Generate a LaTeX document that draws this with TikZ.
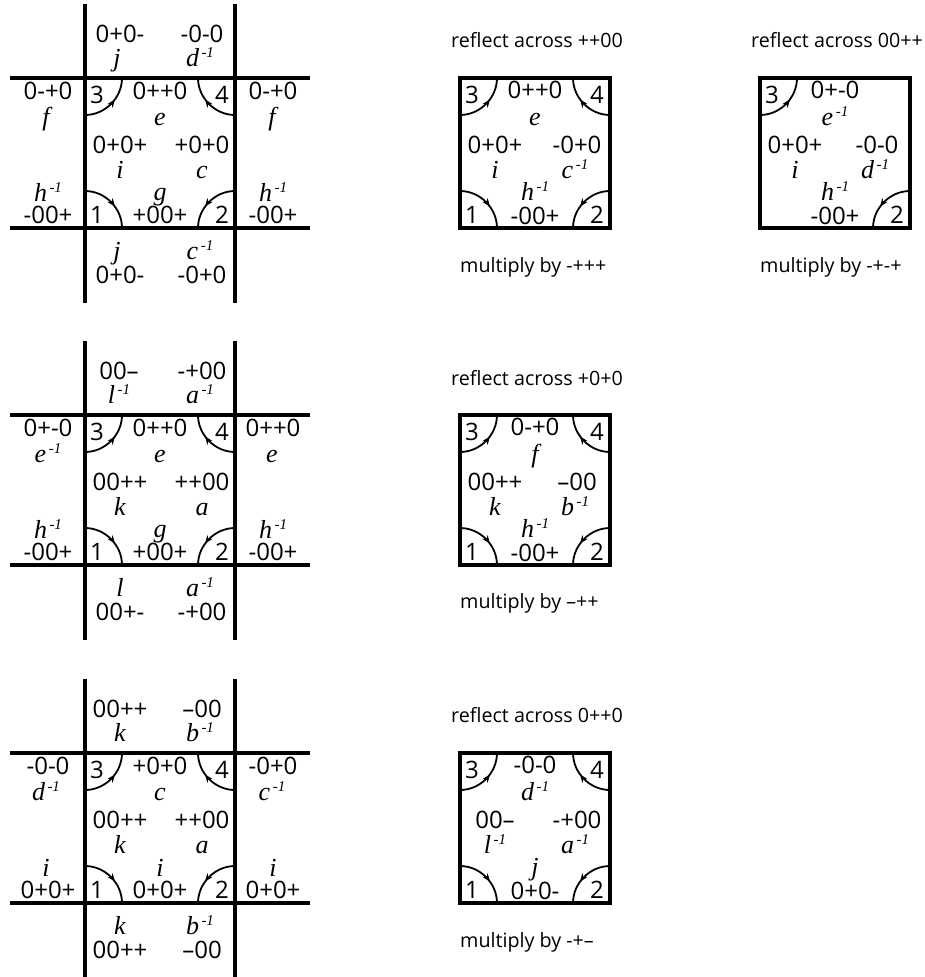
\documentclass[tikz,border=0pt]{standalone}
\usepackage{fontspec}
\usetikzlibrary{arrows.meta,decorations.markings}
\setmainfont{Open Sans}
\newfontfamily\itf{Liberation Serif Italic}
\newcounter{lbl}
\newcommand\tn[4]{\stepcounter{lbl}\node[#1] (n\arabic{lbl}) at (#2,#3) {#4};}
\newcommand\inv[1]{#1\raisebox{9pt}{\fontsize{15}{15}\selectfont\,-1}}
\newcommand\carc[4]{\draw[cornerarc] (#1,{#2+#4*37}) .. controls ({#1+#3*20},{#2+#4*37}) and ({#1+#3*37},{#2+#4*20}) .. ({#1+#3*37},#2);}
% corner arcs + digits, square with left #1 and top 0
\newcommand\cA[1]{\carc{#1}{150}{1}{-1}\tn{num}{#1+12}{145}{1}}
\newcommand\cB[1]{\carc{#1+150}{150}{-1}{-1}\tn{num}{#1+137}{145}{2}}
\newcommand\cC[1]{\carc{#1}{0}{1}{1}\tn{num}{#1+12}{25}{3}}
\newcommand\cD[1]{\carc{#1+150}{0}{-1}{1}\tn{num}{#1+137}{25}{4}}
\newcommand\grid{%
  \draw[heavy] (85,-74) -- (85,225);
  \draw[heavy] (235,-74) -- (235,225);
  \draw[heavy] (10,0) -- (310,0);
  \draw[heavy] (10,150) -- (310,150);
  \cA{85}\cB{85}\cC{85}\cD{85}}
\tikzset{
  x=1pt,y=-1pt,
  heavy/.style={line width=4.2pt,black},
  frame/.style={line width=4.2pt,black},
  cornerarc/.style={line width=1.8pt,black,postaction={decorate},
    decoration={markings,mark=at position .6 with {\arrow[line width=.6pt]{Stealth[length=8pt,width=6.5pt]}}}},
  num/.style={anchor=base,inner sep=0pt,font=\fontsize{24}{24}\selectfont},
  ital/.style={anchor=base,inner sep=0pt,font=\fontsize{26}{26}\itf},
  captxt/.style={anchor=base west,inner sep=0pt,font=\fontsize{19.7}{20}\selectfont},
}
\begin{document}
\begin{tikzpicture}
\useasboundingbox (0,0) rectangle (924,977);
% ---------- panel 1
\begin{scope}[shift={(0,78)}]
\grid
\tn{num}{120}{-36}{0+0-}\tn{num}{202}{-36}{-0-0}
\tn{ital}{117}{-12}{j}\tn{ital}{200}{-12}{\inv{d}}
\tn{num}{48}{21}{0-+0}\tn{num}{160}{21}{0++0}\tn{num}{273}{21}{0-+0}
\tn{ital}{46}{47}{f}\tn{ital}{160}{47}{e}\tn{ital}{272}{47}{f}
\tn{num}{120}{75}{0+0+}\tn{num}{202}{75}{+0+0}
\tn{ital}{120}{100}{i}\tn{ital}{202}{100}{c}
\tn{ital}{48}{123}{\inv{h}}\tn{ital}{160}{122}{g}\tn{ital}{273}{123}{\inv{h}}
\tn{num}{48}{145}{-00+}\tn{num}{160}{145}{+00+}\tn{num}{273}{145}{-00+}
\tn{ital}{117}{181}{j}\tn{ital}{200}{181}{\inv{c}}
\tn{num}{120}{205}{0+0-}\tn{num}{202}{205}{-0+0}
\end{scope}
% ---------- panel 2
\begin{scope}[shift={(0,415)}]
\grid
\tn{num}{119}{-36}{00--}\tn{num}{202}{-36}{-+00}
\tn{ital}{119}{-12}{\inv{l}}\tn{ital}{200}{-12}{\inv{a}}
\tn{num}{48}{21}{0+-0}\tn{num}{160}{21}{0++0}\tn{num}{273}{21}{0++0}
\tn{ital}{48}{47}{\inv{e}}\tn{ital}{160}{47}{e}\tn{ital}{272}{47}{e}
\tn{num}{120}{75}{00++}\tn{num}{202}{75}{++00}
\tn{ital}{120}{100}{k}\tn{ital}{202}{100}{a}
\tn{ital}{48}{123}{\inv{h}}\tn{ital}{160}{122}{g}\tn{ital}{273}{123}{\inv{h}}
\tn{num}{48}{145}{-00+}\tn{num}{160}{145}{+00+}\tn{num}{273}{145}{-00+}
\tn{ital}{120}{181}{l}\tn{ital}{200}{181}{\inv{a}}
\tn{num}{120}{205}{00+-}\tn{num}{202}{205}{-+00}
\end{scope}
% ---------- panel 3
\begin{scope}[shift={(0,753)}]
\grid
\tn{num}{120}{-36}{00++}\tn{num}{202}{-36}{--00}
\tn{ital}{120}{-12}{k}\tn{ital}{200}{-12}{\inv{b}}
\tn{num}{48}{21}{-0-0}\tn{num}{160}{21}{+0+0}\tn{num}{273}{21}{-0+0}
\tn{ital}{46}{47}{\inv{d}}\tn{ital}{160}{47}{c}\tn{ital}{272}{47}{\inv{c}}
\tn{num}{120}{75}{00++}\tn{num}{202}{75}{++00}
\tn{ital}{120}{100}{k}\tn{ital}{202}{100}{a}
\tn{ital}{46}{123}{i}\tn{ital}{160}{123}{i}\tn{ital}{273}{123}{i}
\tn{num}{48}{145}{0+0+}\tn{num}{160}{145}{0+0+}\tn{num}{273}{145}{0+0+}
\tn{ital}{120}{181}{k}\tn{ital}{200}{181}{\inv{b}}
\tn{num}{120}{205}{00++}\tn{num}{202}{205}{--00}
\end{scope}
% ---------- small squares, row 1
\begin{scope}[shift={(0,78)}]
\draw[frame] (460,0) rectangle (610,150);
\cA{460}\cB{460}\cC{460}\cD{460}
\tn{captxt}{451}{-31}{reflect across ++00}
\tn{captxt}{460}{194}{multiply by -+++}
\tn{num}{535}{20}{0++0}\tn{ital}{535}{47}{e}
\tn{num}{495}{75}{0+0+}\tn{num}{577}{75}{-0+0}
\tn{ital}{495}{100}{i}\tn{ital}{575}{100}{\inv{c}}
\tn{ital}{535}{122}{\inv{h}}\tn{num}{535}{146}{-00+}
\draw[frame] (760,0) rectangle (910,150);
\cB{760}\cC{760}
\tn{captxt}{751}{-31}{reflect across 00++}
\tn{captxt}{760}{194}{multiply by -+-+}
\tn{num}{835}{20}{0+-0}\tn{ital}{835}{47}{\inv{e}}
\tn{num}{795}{75}{0+0+}\tn{num}{877}{75}{-0-0}
\tn{ital}{795}{100}{i}\tn{ital}{875}{100}{\inv{d}}
\tn{ital}{835}{122}{\inv{h}}\tn{num}{835}{146}{-00+}
\end{scope}
% ---------- small square, row 2
\begin{scope}[shift={(0,415)}]
\draw[frame] (460,0) rectangle (610,150);
\cA{460}\cB{460}\cC{460}\cD{460}
\tn{captxt}{451}{-30}{reflect across +0+0}
\tn{captxt}{460}{193}{multiply by --++}
\tn{num}{535}{20}{0-+0}\tn{ital}{535}{47}{f}
\tn{num}{495}{75}{00++}\tn{num}{577}{75}{--00}
\tn{ital}{495}{100}{k}\tn{ital}{575}{100}{\inv{b}}
\tn{ital}{535}{122}{\inv{h}}\tn{num}{535}{146}{-00+}
\end{scope}
% ---------- small square, row 3
\begin{scope}[shift={(0,753)}]
\draw[frame] (460,0) rectangle (610,150);
\cA{460}\cB{460}\cC{460}\cD{460}
\tn{captxt}{451}{-31}{reflect across 0++0}
\tn{captxt}{460}{194}{multiply by -+--}
\tn{num}{535}{20}{-0-0}\tn{ital}{535}{47}{\inv{d}}
\tn{num}{495}{75}{00--}\tn{num}{577}{75}{-+00}
\tn{ital}{495}{100}{\inv{l}}\tn{ital}{575}{100}{\inv{a}}
\tn{ital}{535}{122}{j}\tn{num}{535}{146}{0+0-}
\end{scope}
\end{tikzpicture}
\end{document}
